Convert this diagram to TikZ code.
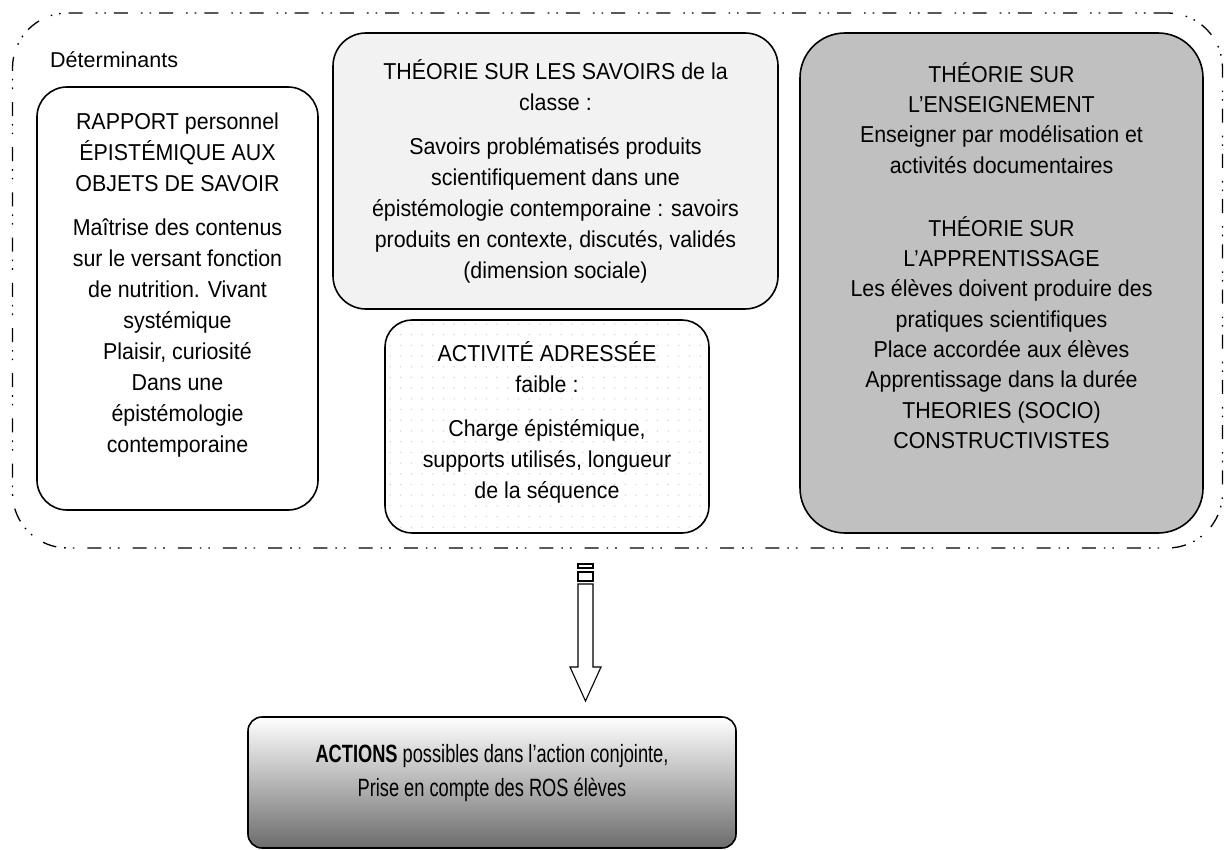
\documentclass[tikz,border=0pt]{standalone}
\usepackage{fontspec}
\usetikzlibrary{calc}
\setmainfont{Liberation Sans}
\newfontfamily\boxfont{Liberation Sans}[FakeStretch=0.93]
\newfontfamily\narrowfont{Liberation Sans}[FakeStretch=0.73]
\definecolor{lightfill}{HTML}{F2F2F2}
\definecolor{darkfill}{HTML}{C0C0C0}
\definecolor{dotc}{HTML}{D6D6D6}
\definecolor{gradbot}{HTML}{6C6C6C}
\tikzset{
  boxstyle/.style={draw=black, line width=1.6pt, inner sep=0pt},
  outerstyle/.style={draw=black, line width=1.3pt, inner sep=0pt,
     dash pattern=on 14pt off 8pt on 1.6pt off 7pt on 1.6pt off 13pt},
  boxtext/.style={align=center, inner sep=0pt, anchor=north,
     font={\boxfont\fontsize{23}{31}\selectfont}},
  arrowline/.style={draw=black, line width=1.1pt, fill=white, line join=miter}
}
\begin{document}
\begin{tikzpicture}[x=1pt,y=-1pt]
\useasboundingbox (0,0) rectangle (1230,850);

% outer dashed frame
\node[outerstyle, rounded corners=55pt, minimum width=1210pt, minimum height=535pt] (outer) at (617.5,280.5) {};
\node[anchor=base west, inner sep=0pt, font={\fontsize{21.5}{25}\selectfont}] (det) at (50,68) {Déterminants};

% left box
\node[boxstyle, rounded corners=30pt, fill=white, minimum width=281pt, minimum height=423pt] (left) at (177.5,298.5) {};
\node[boxtext] (lefttext) at (177.5,113) {RAPPORT personnel\\ÉPISTÉMIQUE AUX\\OBJETS DE SAVOIR\\[13pt]Maîtrise des contenus\\sur le versant fonction\\de nutrition. Vivant\\systémique\\Plaisir, curiosité\\Dans une\\épistémologie\\contemporaine};

% middle top box
\node[boxstyle, rounded corners=33pt, fill=lightfill, minimum width=445pt, minimum height=276pt] (mid) at (555.5,171) {};
\node[boxtext] (midtext) at (555.5,59) {THÉORIE SUR LES SAVOIRS de la\\classe :\\[13pt]Savoirs problématisés produits\\scientifiquement dans une\\épistémologie contemporaine : savoirs\\produits en contexte, discutés, validés\\(dimension sociale)};

% dotted box
\begin{scope}
  \clip[rounded corners=27pt] (385,320) rectangle (709,533);
  \foreach \i in {0,...,31}{
    \foreach \j in {0,...,20}{
      \fill[dotc] ({390+\i*10.7},{324+\j*10.7}) circle (0.8pt);
    }
  }
\end{scope}
\node[boxstyle, rounded corners=27pt, minimum width=324pt, minimum height=213pt] (act) at (547,426.5) {};
\node[boxtext] (acttext) at (547,341) {ACTIVITÉ ADRESSÉE\\faible :\\[13pt]Charge épistémique,\\supports utilisés, longueur\\de la séquence};

% right box
\node[boxstyle, rounded corners=45pt, fill=darkfill, minimum width=403pt, minimum height=500pt] (right) at (1001.5,283) {};
\node[boxtext, font={\boxfont\fontsize{23}{30.3}\selectfont}] (righttext) at (1001.5,62) {THÉORIE SUR\\L’ENSEIGNEMENT\\Enseigner par modélisation et\\activités documentaires\\[33pt]THÉORIE SUR\\L’APPRENTISSAGE\\Les élèves doivent produire des\\pratiques scientifiques\\Place accordée aux élèves\\Apprentissage dans la durée\\THEORIES (SOCIO)\\CONSTRUCTIVISTES};

% arrow
\coordinate (arrtop) at (585.5,564);
\coordinate (arrtip) at (585.5,701);
\draw[arrowline] ($(arrtop)+(-7.5,0)$) rectangle ($(arrtop)+(7.5,4)$);
\draw[arrowline] ($(arrtop)+(-7.5,8)$) rectangle ($(arrtop)+(7.5,17)$);
\draw[arrowline] ($(arrtop)+(-7.5,20)$) -- ($(arrtop)+(7.5,20)$) -- ($(arrtip)+(7.5,-34)$) -- ($(arrtip)+(15.5,-34)$) -- (arrtip) -- ($(arrtip)+(-15.5,-34)$) -- ($(arrtip)+(-7.5,-34)$) -- cycle;

% bottom box
\node[boxstyle, rounded corners=14pt, top color=white, bottom color=gradbot, minimum width=488pt, minimum height=131pt] (actions) at (492,782.5) {};
\node[boxtext, font={\narrowfont\fontsize{25}{34}\selectfont}] (actionstext) at (492,744) {\textbf{ACTIONS} possibles dans l’action conjointe,\\Prise en compte des ROS élèves};
\end{tikzpicture}
\end{document}
